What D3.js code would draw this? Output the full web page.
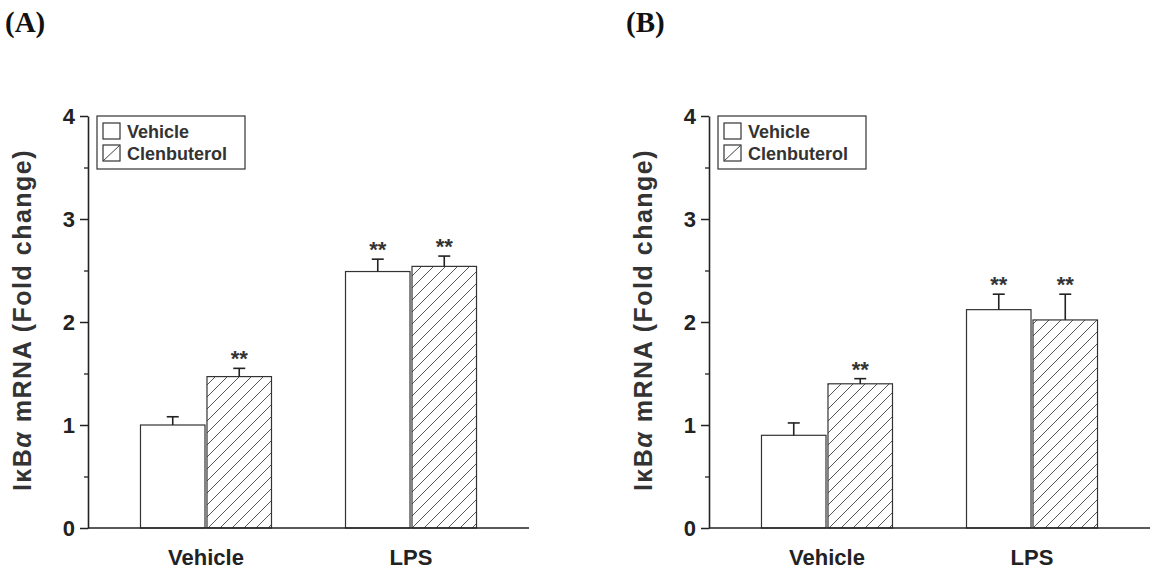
<!DOCTYPE html>
<html>
<head>
<meta charset="utf-8">
<script src="https://cdn.jsdelivr.net/npm/d3@7"></script>
<style>
  html, body { margin: 0; padding: 0; background: #ffffff; }
  svg { display: block; }
</style>
</head>
<body>
<svg id="chart" width="1153" height="573"></svg>
<script>
// ---------------- data ----------------
const groups = ["Vehicle", "LPS"];
const series = ["Vehicle", "Clenbuterol"];
const yTicks = [0, 1, 2, 3, 4];
const yMinorTicks = [0.5, 1.5, 2.5, 3.5];
const panelLabels = ["(A)", "(B)"];

// Panel A: means and upper error (SEM) per group, per series
const meansA = { Vehicle: [1.00, 1.47], LPS: [2.49, 2.54] };
const errA   = { Vehicle: [0.08, 0.08], LPS: [0.12, 0.10] };
const sigA   = { Vehicle: ["", "**"], LPS: ["**", "**"] };

// Panel B
const meansB = { Vehicle: [0.90, 1.40], LPS: [2.12, 2.02] };
const errB   = { Vehicle: [0.12, 0.05], LPS: [0.15, 0.25] };
const sigB   = { Vehicle: ["", "**"], LPS: ["**", "**"] };

// ---------------- drawing ----------------
const svg = d3.select("#chart");
const ink = "#222";
const sans = "'Liberation Sans', Arial, Helvetica, sans-serif";
const serif = "'Liberation Serif', 'Times New Roman', serif";

const defs = svg.append("defs");
const pat = defs.append("pattern")
  .attr("id", "hatch")
  .attr("patternUnits", "userSpaceOnUse")
  .attr("width", 12).attr("height", 12);
pat.append("rect").attr("width", 12).attr("height", 12).attr("fill", "#fff");
pat.append("path")
  .attr("d", "M0,12 L12,0 M-3,3 L3,-3 M9,15 L15,9")
  .attr("stroke", "#444").attr("stroke-width", 0.9);

const y = d3.scaleLinear().domain([0, 4]).range([528, 116]);
const axisW = 441;

function drawPanel(ox, label, means, errs, sigs) {
  const g = svg.append("g").attr("transform", `translate(${ox},0)`);

  const x0 = d3.scaleBand().domain(groups).range([0, axisW])
    .paddingInner(0.361).paddingOuter(0.256);
  const x1 = d3.scaleBand().domain(series).range([0, x0.bandwidth()])
    .paddingInner(0.03).paddingOuter(0);

  // bars
  groups.forEach(grp => {
    series.forEach((s, i) => {
      const v = means[grp][i];
      const bx = x0(grp) + x1(s);
      g.append("rect")
        .attr("x", bx).attr("y", y(v))
        .attr("width", x1.bandwidth()).attr("height", y(0) - y(v))
        .attr("fill", i === 0 ? "#fff" : "url(#hatch)")
        .attr("stroke", "#333").attr("stroke-width", 1.2);
      // error bar (upper)
      const cx = bx + x1.bandwidth() / 2;
      const top = y(v + errs[grp][i]);
      g.append("line").attr("x1", cx).attr("x2", cx)
        .attr("y1", y(v)).attr("y2", top)
        .attr("stroke", ink).attr("stroke-width", 1.6);
      g.append("line").attr("x1", cx - 6).attr("x2", cx + 6)
        .attr("y1", top).attr("y2", top)
        .attr("stroke", ink).attr("stroke-width", 1.6);
      if (sigs[grp][i]) {
        g.append("text").attr("x", cx).attr("y", top - 2)
          .attr("text-anchor", "middle")
          .attr("font-family", sans).attr("font-weight", "bold")
          .attr("font-size", 22).attr("fill", "#333")
          .text(sigs[grp][i]);
      }
    });
  });

  // x axis
  const xAxis = d3.axisBottom(x0).tickSize(0).tickPadding(21);
  const xg = g.append("g").attr("transform", `translate(0,${y(0)})`).call(xAxis);
  xg.select(".domain").attr("d", `M0,0H${axisW}`).attr("stroke", ink).attr("stroke-width", 1.6);
  xg.selectAll("text").attr("font-family", sans).attr("font-weight", "bold")
    .attr("font-size", 22).attr("fill", ink).attr("dy", "0.71em");

  // y axis major
  const yAxis = d3.axisLeft(y).tickValues(yTicks).tickFormat(d3.format("d"))
    .tickSize(8).tickPadding(5).tickSizeOuter(0);
  const yg = g.append("g").call(yAxis);
  yg.select(".domain").attr("stroke", ink).attr("stroke-width", 1.6);
  yg.selectAll(".tick line").attr("stroke", ink).attr("stroke-width", 1.5);
  yg.selectAll("text").attr("font-family", sans).attr("font-weight", "bold")
    .attr("font-size", 22).attr("fill", ink);
  // minor ticks
  const ym = d3.axisLeft(y).tickValues(yMinorTicks).tickSize(4).tickFormat("");
  const ymg = g.append("g").call(ym);
  ymg.select(".domain").remove();
  ymg.selectAll(".tick line").attr("stroke", ink).attr("stroke-width", 1.3);

  // y title
  const t = g.append("text")
    .attr("transform", `translate(-57,320) rotate(-90)`)
    .attr("text-anchor", "middle")
    .attr("font-family", sans).attr("font-weight", "bold")
    .attr("font-size", 25).attr("letter-spacing", 1.5).attr("fill", "#333");
  t.append("tspan").text("Iκ");
  t.append("tspan").text("B");
  t.append("tspan").attr("font-style", "italic").text("α");
  t.append("tspan").text(" mRNA (Fold change)");

  // legend
  const lg = g.append("g").attr("transform", "translate(9,116)");
  lg.append("rect").attr("width", 148).attr("height", 53)
    .attr("fill", "#fff").attr("stroke", "#333").attr("stroke-width", 1.2);
  series.forEach((s, i) => {
    const sy = 7 + i * 22;
    lg.append("rect").attr("x", 6).attr("y", sy).attr("width", 17).attr("height", 16)
      .attr("fill", "#fff").attr("stroke", "#333").attr("stroke-width", 1.2);
    if (i === 1) {
      lg.append("line").attr("x1", 6).attr("y1", sy + 16).attr("x2", 23).attr("y2", sy)
        .attr("stroke", "#444").attr("stroke-width", 1);
    }
    lg.append("text").attr("x", 30).attr("y", sy + 15)
      .attr("font-family", sans).attr("font-weight", "bold")
      .attr("font-size", 18).attr("fill", "#333").text(s);
  });

  // panel label
  svg.append("text").attr("x", ox - 83).attr("y", 32)
    .attr("font-family", serif).attr("font-weight", "bold")
    .attr("font-size", 29).attr("fill", "#111").text(label);
}

drawPanel(88, panelLabels[0], meansA, errA, sigA);
drawPanel(709, panelLabels[1], meansB, errB, sigB);
</script>
</body>
</html>
